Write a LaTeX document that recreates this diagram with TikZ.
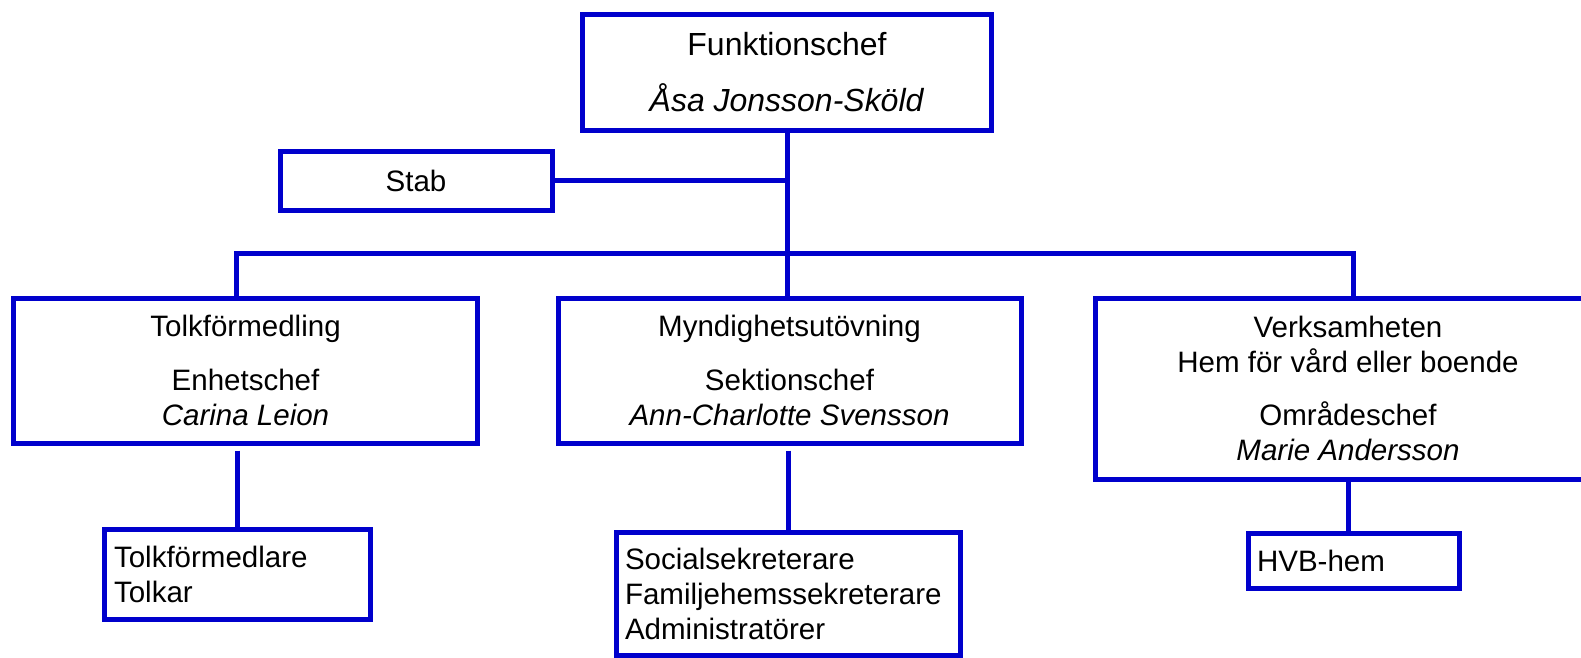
\documentclass[tikz,border=0pt]{standalone}
\usepackage{fontspec}
\setmainfont{Liberation Sans}
\definecolor{orgblue}{RGB}{0,0,204}
\tikzstyle{unit}=[draw=orgblue, line width=1mm, align=center]
\tikzstyle{staff}=[draw=orgblue, line width=1mm, align=left, inner xsep=1.8mm, inner ysep=0pt]
\tikzstyle{link}=[orgblue, line width=1mm]
\begin{document}
\begin{tikzpicture}[x=0.2mm, y=-0.2mm, font=\fontsize{16.8}{19.9}\selectfont]
\useasboundingbox (0,0) rectangle (1581,657);
\clip (0,0) rectangle (1581,657);
\draw(787,72) node[unit, minimum width=81.8mm, minimum height=23.2mm,
  font=\fontsize{18.2}{21.6}\selectfont](chief)
  {Funktionschef\\[3.7mm] \textit{Åsa Jonsson-Sköld}};
\draw(416,180.5) node[unit, minimum width=54.4mm, minimum height=11.8mm](stab){Stab};
\draw[link] (stab.east) -- (stab.east -| chief.south);
%
\draw(245.5,370.5) node[unit, minimum width=92.6mm, minimum height=29mm](tolk)
  {Tolkförmedling\\[3.8mm] Enhetschef\\ \textit{Carina Leion}};
\draw(789.5,370.5) node[unit, minimum width=92.6mm, minimum height=29mm](mynd)
  {Myndighetsutövning\\[3.8mm] Sektionschef\\ \textit{Ann-Charlotte Svensson}};
\draw(1348,388.5) node[unit, minimum width=101.2mm, minimum height=36.2mm](verk)
  {Verksamheten\\ Hem för vård eller boende\\[3.6mm] Områdeschef\\ \textit{Marie Andersson}};
%
\draw[link] (chief.south) -- (chief.south |- mynd.north);
\coordinate (busL) at (236,253);
\coordinate (busR) at (1353,253);
\draw[link] (busL |- tolk.north) -- (busL) -- (busR) -- (busR |- verk.north);
%
\draw(237.5,574) node[staff, text width=49.4mm, minimum height=18mm](tolkar)
  {Tolkförmedlare\\ Tolkar};
\draw[link, shorten <=1mm] (tolk.south -| tolkar.north) -- (tolkar.north);
%
\draw(788,593.5) node[staff, text width=65.2mm, minimum height=24.6mm](social)
  {Socialsekreterare\\ Familjehemssekreterare\\ Administratörer};
\draw[link, shorten <=1mm] (mynd.south -| social.north) -- (social.north);
%
\draw(1353.5,560.5) node[staff, text width=38.6mm, minimum height=11mm](hvb){HVB-hem};
\draw[link] (verk.south) -- (verk.south |- hvb.north);
\end{tikzpicture}
\end{document}
